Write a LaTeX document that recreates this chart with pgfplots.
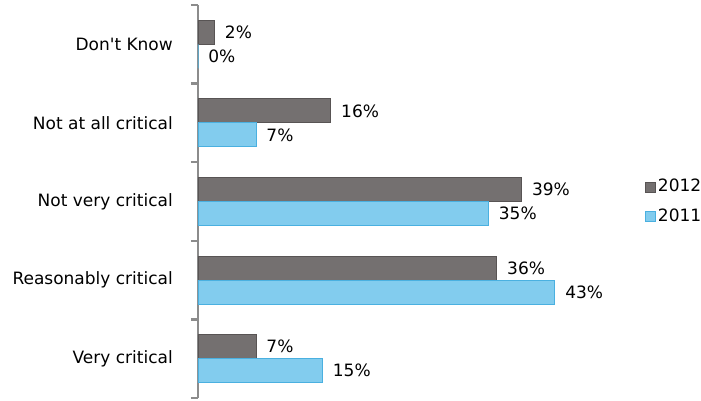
\documentclass[border=0pt]{standalone}
\usepackage{pgfplots}
\pgfplotsset{compat=1.18}
\usepackage{fontspec}
\setmainfont{DejaVu Sans}
\definecolor{axgray}{HTML}{8C8C8C}
\definecolor{gfill}{HTML}{747070}
\definecolor{gedge}{HTML}{585454}
\definecolor{bfill}{HTML}{82CCEE}
\definecolor{bedge}{HTML}{4AB0E0}
\begin{document}
\fontsize{17bp}{20bp}\selectfont
\begin{tikzpicture}
\path[use as bounding box] (-198bp,-3bp) rectangle (503bp,398bp);
\begin{axis}[
  at={(0,0)}, anchor=south west,
  scale only axis,
  width=415bp, height=393bp,
  xmin=0, xmax=50,
  ymin=-0.5, ymax=4.5,
  axis x line=none,
  axis y line*=left,
  /pgf/number format/assume math mode=true,
  y axis line style={draw=axgray, line width=2.5bp},
  ytick={0,1,2,3,4},
  yticklabels={Very critical, Reasonably critical, Not very critical, Not at all critical, Don\textquotesingle t Know},
  major tick length=0pt,
  minor ytick={-0.5,0.5,1.5,2.5,3.5,4.5},
  minor tick length=7bp,
  tick align=outside,
  minor tick style={draw=axgray, line width=2.5bp},
  yticklabel style={anchor=east, inner sep=0pt, xshift=-25bp, font=\fontsize{17bp}{20bp}\selectfont},
  xbar, bar width=24bp,
  nodes near coords={\pgfmathprintnumber{\pgfplotspointmeta}\%},
  nodes near coords align={horizontal},
  every node near coord/.append style={anchor=west, inner sep=0pt, xshift=10bp, black, font=\fontsize{17bp}{20bp}\selectfont},
  legend style={at={(1,0.5)}, anchor=west, xshift=32bp, draw=none, fill=none,
    font=\fontsize{17bp}{20bp}\selectfont, row sep=10bp, inner sep=0pt,
    cells={anchor=west}},
  legend image code/.code={\fill[#1] (0bp,-5bp) rectangle (10bp,5bp);},
]
\addplot[bar shift=12bp, draw=gedge, line width=0.8bp, fill=gfill]
  coordinates {(7,0) (36,1) (39,2) (16,3) (2,4)};
\addlegendentry{2012}
\addplot[bar shift=-12bp, draw=bedge, line width=0.8bp, fill=bfill]
  coordinates {(15,0) (43,1) (35,2) (7,3) (0,4)};
\addlegendentry{2011}
\end{axis}
\end{tikzpicture}
\end{document}
